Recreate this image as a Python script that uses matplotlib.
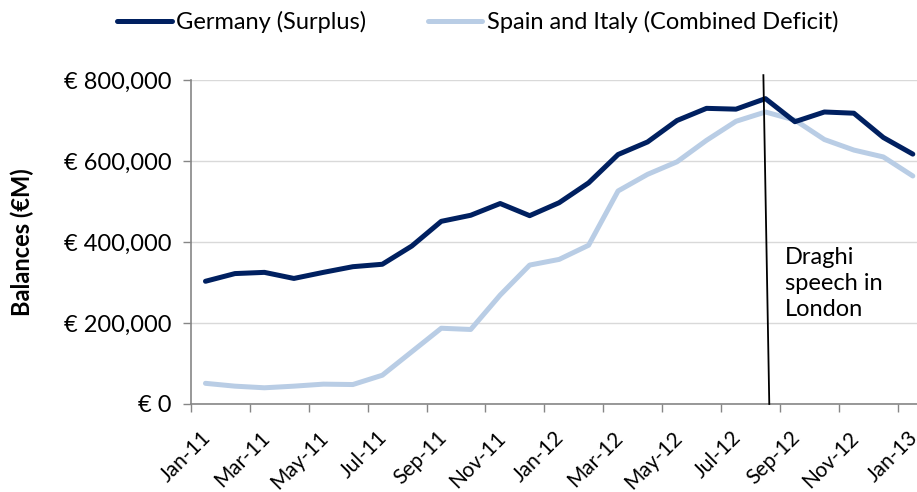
import matplotlib.pyplot as plt
from matplotlib.ticker import FuncFormatter, FixedLocator

plt.rcParams['font.family'] = ['Lato', 'DejaVu Sans']

months = ["Jan-11", "Feb-11", "Mar-11", "Apr-11", "May-11", "Jun-11", "Jul-11",
          "Aug-11", "Sep-11", "Oct-11", "Nov-11", "Dec-11", "Jan-12", "Feb-12",
          "Mar-12", "Apr-12", "May-12", "Jun-12", "Jul-12", "Aug-12", "Sep-12",
          "Oct-12", "Nov-12", "Dec-12", "Jan-13"]

germany = [303000, 322000, 325000, 310000, 325000, 339000, 345000, 390000,
           451000, 466000, 495000, 465000, 497000, 546000, 616000, 647000,
           700000, 730000, 728000, 754000, 697000, 721000, 718000, 658000,
           617000]

spain_italy = [51000, 44000, 40000, 44000, 49000, 48000, 71000, 129000,
               187000, 184000, 269000, 343000, 357000, 392000, 526000, 567000,
               598000, 651000, 698000, 721000, 701000, 653000, 627000, 610000,
               563000]

x = list(range(len(months)))
fs = 17

fig = plt.figure(figsize=(9.17, 4.92), dpi=100)
ax = fig.add_axes([0.208, 0.1789, 0.8035, 0.6585])

ax.plot(x, germany, color="#002060", lw=3.6, label="Germany (Surplus)",
        solid_capstyle="round", zorder=3)
ax.plot(x, spain_italy, color="#B9CDE5", lw=3.6,
        label="Spain and Italy (Combined Deficit)", solid_capstyle="round",
        zorder=2)

# Draghi speech marker
ax.plot([18.93, 19.13], [812000, 0], color="black", lw=1.3, clip_on=False, zorder=4)
ax.text(19.67, 388000, "Draghi\nspeech in\nLondon", fontsize=fs, va="top",
        ha="left", linespacing=1.3)

ax.set_xlim(-0.5, 24.5)
ax.set_ylim(0, 800000)
ax.set_yticks([0, 200000, 400000, 600000, 800000])
ax.yaxis.set_major_formatter(FuncFormatter(lambda v, p: "€ {:,.0f}".format(v)))

# ticks sit between months, labels every other month (nudged a bit left)
ax.xaxis.set_major_locator(FixedLocator([i - 0.5 for i in range(0, 25, 2)]))
ax.xaxis.set_minor_locator(FixedLocator([i - 0.17 for i in x[::2]]))
ax.set_xticklabels([], minor=False)
ax.set_xticklabels(months[::2], minor=True, rotation=45, ha="right",
                   rotation_mode="anchor", fontsize=15)
ax.tick_params(axis="x", which="minor", length=0, pad=17)
ax.tick_params(axis="x", which="major", length=6, color="#868686", width=1)
ax.tick_params(axis="y", length=6, color="#868686", width=1, labelsize=fs, pad=8)

ax.grid(axis="y", color="#D9D9D9", lw=1)
ax.set_axisbelow(True)
for s in ["top", "right"]:
    ax.spines[s].set_visible(False)
for s in ["left", "bottom"]:
    ax.spines[s].set_color("#868686")
    ax.spines[s].set_linewidth(1.2)

ax.set_ylabel("Balances (€M)", fontsize=fs, fontweight="bold")
ax.yaxis.set_label_coords(-0.2127, 0.5)

fig.legend(loc="center", bbox_to_anchor=(0.521, 0.955), ncol=2, frameon=False,
           fontsize=fs, handlelength=2.3, handletextpad=0.2, columnspacing=2.6)

fig.savefig("out.png", dpi=100)
